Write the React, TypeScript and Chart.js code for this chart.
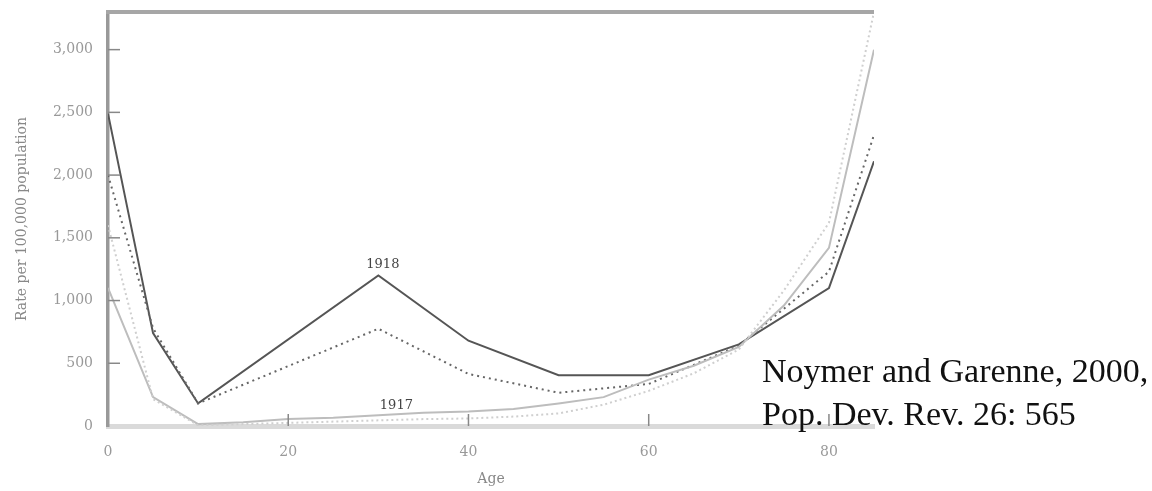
import React, { useEffect, useRef } from "react";
import { Chart, registerables } from "chart.js";

Chart.register(...registerables);

const ages1918 = [0, 5, 10, 30, 40, 50, 60, 70, 80, 85];
const rate1918Solid = [2490, 740, 180, 1200, 680, 405, 405, 650, 1100, 2110];
const rate1918Dotted = [2000, 780, 180, 775, 415, 265, 335, 640, 1230, 2320];

const ages1917 = [0, 5, 10, 15, 20, 25, 30, 35, 40, 45, 50, 55, 60, 65, 70, 75, 80, 85];
const rate1917Solid = [1100, 230, 15, 30, 55, 65, 85, 105, 115, 135, 180, 230, 370, 480, 630, 960, 1420, 3000];
const rate1917Dotted = [1600, 215, 5, 15, 25, 35, 45, 55, 60, 75, 100, 170, 280, 420, 610, 1080, 1620, 3300];

const yTicks = [0, 500, 1000, 1500, 2000, 2500, 3000];
const xTicks = [0, 20, 40, 60, 80];

const curveLabels = [
  { text: "1918", age: 30.5, rate: 1290 },
  { text: "1917", age: 32, rate: 160 },
];
const sourceLines = ["Noymer and Garenne, 2000,", "Pop. Dev. Rev. 26: 565"];

const toPoints = (xs: number[], ys: number[]) => xs.map((x, i) => ({ x, y: ys[i] }));

const decorPlugin = {
  id: "decor",
  afterDraw(chart: any) {
    const { ctx, chartArea, scales } = chart;
    const xs = scales.x;
    const ys = scales.y;
    ctx.save();
    // top frame line
    ctx.strokeStyle = "#a6a6a6";
    ctx.lineWidth = 4;
    ctx.beginPath();
    ctx.moveTo(chartArea.left - 2, chartArea.top);
    ctx.lineTo(chartArea.right, chartArea.top);
    ctx.stroke();
    // y tick marks inside
    ctx.strokeStyle = "#888";
    ctx.lineWidth = 1.5;
    yTicks.forEach((v) => {
      if (v === 0) return;
      const y = ys.getPixelForValue(v);
      ctx.beginPath();
      ctx.moveTo(chartArea.left, y);
      ctx.lineTo(chartArea.left + 12, y);
      ctx.stroke();
    });
    // x tick marks inside
    xTicks.forEach((v) => {
      if (v === 0) return;
      const x = xs.getPixelForValue(v);
      ctx.beginPath();
      ctx.moveTo(x, chartArea.bottom);
      ctx.lineTo(x, chartArea.bottom - 12);
      ctx.stroke();
    });
    // curve labels
    ctx.fillStyle = "#444";
    ctx.font = "13px 'DejaVu Serif'";
    ctx.textAlign = "center";
    ctx.textBaseline = "middle";
    curveLabels.forEach((l) => {
      ctx.fillText(l.text, xs.getPixelForValue(l.age), ys.getPixelForValue(l.rate));
    });
    // source text
    ctx.fillStyle = "#111";
    ctx.font = "34px 'Liberation Serif'";
    ctx.textAlign = "left";
    ctx.textBaseline = "alphabetic";
    sourceLines.forEach((t, i) => {
      ctx.fillText(t, 762, 382 + i * 43);
    });
    ctx.restore();
  },
};

export default function App() {
  const ref = useRef<HTMLCanvasElement>(null);
  useEffect(() => {
    if (!ref.current) return;
    const chart = new Chart(ref.current, {
      type: "line",
      data: {
        datasets: [
          {
            label: "1917 dotted",
            data: toPoints(ages1917, rate1917Dotted),
            borderColor: "#cfcfcf",
            borderWidth: 2,
            borderDash: [2, 3],
            pointRadius: 0,
            tension: 0,
          },
          {
            label: "1917",
            data: toPoints(ages1917, rate1917Solid),
            borderColor: "#bdbdbd",
            borderWidth: 2,
            pointRadius: 0,
            tension: 0,
          },
          {
            label: "1918 dotted",
            data: toPoints(ages1918, rate1918Dotted),
            borderColor: "#666",
            borderWidth: 2,
            borderDash: [2, 4],
            pointRadius: 0,
            tension: 0,
          },
          {
            label: "1918",
            data: toPoints(ages1918, rate1918Solid),
            borderColor: "#555",
            borderWidth: 2,
            pointRadius: 0,
            tension: 0,
          },
        ],
      },
      options: {
        responsive: false,
        animation: false,
        layout: { padding: { left: 0, top: 12, right: 278, bottom: 0 } },
        plugins: { legend: { display: false }, tooltip: { enabled: false } },
        scales: {
          x: {
            type: "linear",
            min: 0,
            max: 85,
            afterFit: (s: any) => {
              s.height = 65;
              s.paddingLeft = 0;
              s.paddingRight = 0;
            },
            afterBuildTicks: (s: any) => {
              s.ticks = xTicks.map((v) => ({ value: v }));
            },
            grid: { display: false, drawTicks: false },
            border: { display: true, color: "#dadada", width: 5 },
            ticks: {
              padding: 18,
              color: "#999",
              autoSkip: false,
              maxRotation: 0,
              font: { family: "'DejaVu Serif'", size: 14 },
              callback: (v: any) => String(v),
            },
            title: {
              display: true,
              text: "Age",
              color: "#888",
              font: { family: "'DejaVu Serif'", size: 14 },
              padding: { top: 0, bottom: 3 },
            },
          },
          y: {
            type: "linear",
            min: 0,
            max: 3300,
            afterFit: (s: any) => {
              s.width = 108;
              s.paddingTop = 0;
              s.paddingBottom = 0;
            },
            afterBuildTicks: (s: any) => {
              s.ticks = yTicks.map((v) => ({ value: v }));
            },
            grid: { display: false, drawTicks: false },
            border: { display: true, color: "#999", width: 3.5 },
            ticks: {
              padding: 15,
              color: "#999",
              autoSkip: false,
              font: { family: "'DejaVu Serif'", size: 14 },
              callback: (v: any) => Number(v).toLocaleString("en-US"),
            },
            title: {
              display: true,
              text: "Rate per 100,000 population",
              color: "#888",
              font: { family: "'DejaVu Serif'", size: 14 },
              padding: { top: 14, bottom: 0 },
            },
          },
        },
      },
      plugins: [decorPlugin],
    });
    return () => chart.destroy();
  }, []);
  return (
    <div style={{ position: "fixed", left: 0, top: 0, width: 1152, height: 491, background: "#fff" }}>
      <canvas ref={ref} width={1152} height={491} />
    </div>
  );
}
